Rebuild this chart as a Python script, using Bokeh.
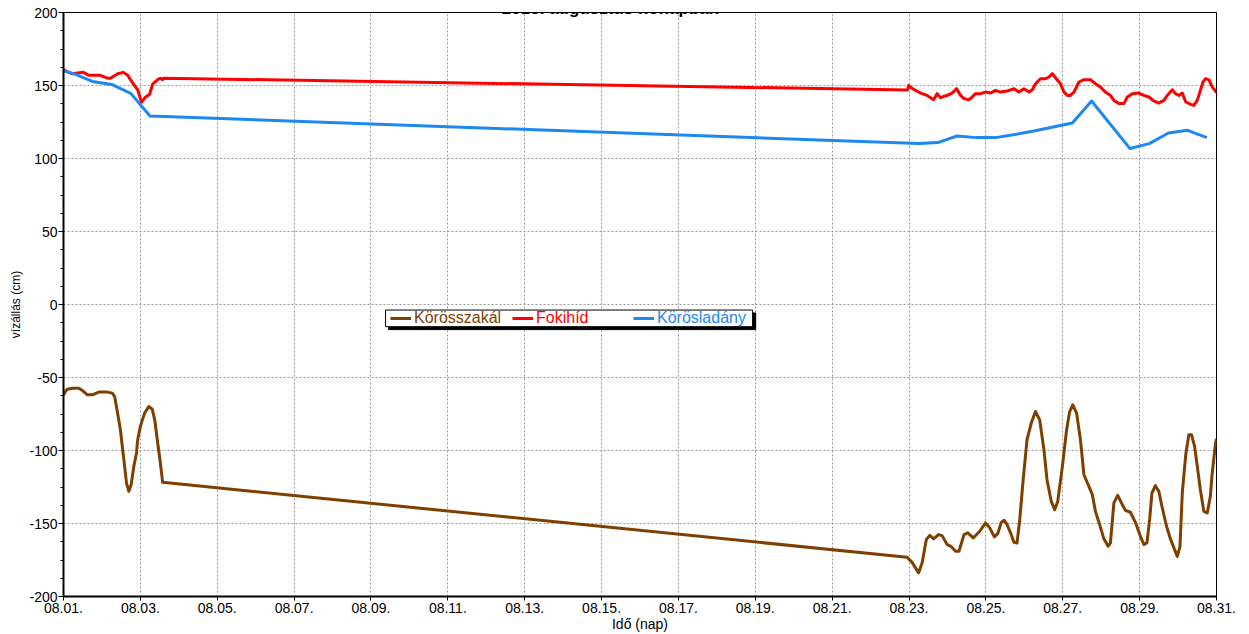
import pandas as pd
from bokeh.plotting import figure
from bokeh.models import (FixedTicker, DatetimeTickFormatter, Range1d, Legend,
                          LegendItem, BoxAnnotation, Label, PrintfTickFormatter)
from bokeh.embed import file_html
from bokeh.resources import INLINE

MONTH_START = "2018-08-01"
title_text = "2018. augusztus hónapban"
x_label = "Idő (nap)"
y_label = "vízállás (cm)"
names = ["Körösszakál", "Fokihíd", "Körösladány"]
colors = ["#7F3F00", "#FF0000", "#1E88F0"]

# day of month (fractional) and water level (cm)
fokihid_day = [1.00, 1.05, 1.23, 1.52, 1.65, 1.96, 2.14, 2.22, 2.41, 2.56, 2.67, 2.74, 2.93, 3.03, 3.13,
               3.24, 3.32, 3.45, 3.52, 3.58, 3.60, 22.96, 22.99, 23.08, 23.17, 23.25, 23.34, 23.47,
               23.64, 23.73, 23.82, 23.90, 23.99, 24.12, 24.24, 24.34, 24.43, 24.56, 24.64, 24.73,
               24.86, 24.99, 25.12, 25.25, 25.38, 25.55, 25.73, 25.86, 25.99, 26.12, 26.21, 26.29,
               26.42, 26.55, 26.64, 26.73, 26.81, 26.94, 27.03, 27.12, 27.20, 27.29, 27.42, 27.55,
               27.72, 27.85, 27.98, 28.11, 28.24, 28.33, 28.46, 28.59, 28.68, 28.81, 28.98, 29.11,
               29.24, 29.37, 29.50, 29.63, 29.72, 29.85, 29.93, 30.02, 30.11, 30.20, 30.33, 30.41,
               30.50, 30.58, 30.65, 30.71, 30.80, 30.89, 30.96, 31.00]
fokihid_cm = [161, 160, 158, 159, 157, 157, 155, 155, 158, 159, 157, 154, 147, 138.5, 142,
              144, 151, 154, 155, 154, 155, 147, 150, 148, 146.7, 145.5, 144.4, 143.2,
              140.3, 144.4, 141.6, 142.6, 143.2, 144.8, 147.8, 143.2, 141, 140.3, 142.1, 144.4,
              144.4, 145.5, 144.8, 146.7, 145.5, 146.2, 147.8, 145.5, 147.8, 145.5, 147.1, 151.2,
              154.6, 154.6, 155.8, 158.1, 155.3, 151.2, 145.5, 143.2, 143.2, 145.5, 152.4, 154,
              154, 151.2, 148.9, 145.5, 143.2, 139.8, 137.6, 137.6, 142.1, 144.4, 144.8, 143.2,
              142.1, 139.4, 138, 139.8, 143.2, 147.1, 144.4, 143.2, 144.8, 138.7, 137.1, 136.4,
              139.8, 146.7, 152.4, 154.6, 154, 148.9, 146.7, 145]

koroslad_day = [1.00, 1.25, 1.75, 2.25, 2.75, 3.25, 23.25, 23.75, 24.25, 24.75, 25.25, 25.75,
                26.25, 26.75, 27.25, 27.75, 28.75, 29.25, 29.75, 30.25, 30.75]
koroslad_cm = [160, 158.3, 152.8, 150.7, 144.6, 129.1, 110.2, 110.9, 115.4, 114.3, 114.3, 116.4,
               118.8, 121.6, 124.3, 139.4, 106.8, 110.2, 117.5, 119.3, 114.3]

korossz_day = [1.00, 1.05, 1.10, 1.23, 1.40, 1.49, 1.62, 1.75, 1.92, 2.14, 2.27, 2.33, 2.40, 2.48,
               2.57, 2.64, 2.70, 2.76, 2.83, 2.90, 2.93, 3.00, 3.11, 3.22, 3.31, 3.38, 3.44, 3.51,
               3.58, 22.95, 23.08, 23.25, 23.34, 23.45, 23.54, 23.64, 23.77, 23.86, 23.99, 24.09,
               24.21, 24.30, 24.43, 24.53, 24.67, 24.84, 24.99, 25.10, 25.22, 25.31, 25.40, 25.47,
               25.54, 25.64, 25.73, 25.81, 25.88, 25.97, 26.07, 26.18, 26.29, 26.40, 26.51, 26.59,
               26.70, 26.79, 26.87, 26.99, 27.10, 27.18, 27.26, 27.36, 27.46, 27.55, 27.68, 27.77,
               27.85, 27.96, 28.07, 28.18, 28.24, 28.33, 28.43, 28.55, 28.63, 28.76, 28.89, 29.02,
               29.11, 29.19, 29.26, 29.32, 29.41, 29.50, 29.59, 29.70, 29.80, 29.91, 29.98, 30.05,
               30.11, 30.20, 30.28, 30.35, 30.43, 30.50, 30.58, 30.67, 30.76, 30.84, 30.88, 30.97,
               31.00]
korossz_cm = [-62, -59.6, -58, -57.3, -57.3, -58.9, -61.9, -61.9, -60, -60, -60.7, -63, -73.3, -85.8,
              -106.3, -122.3, -128, -123.4, -110.9, -101.7, -92.6, -83.5, -74.4, -69.9, -71.7, -80.1,
              -92.6, -106.3, -121.8, -173.1, -176.6, -183.8, -177, -161, -158.1, -160.5, -157.6,
              -158.3, -164.4, -165.6, -169, -169, -157.6, -156.4, -159.9, -155.3, -149.6, -153,
              -159.2, -156.9, -149.2, -147.8, -150.1, -156.4, -162.9, -163.3, -147.4, -120, -92.6,
              -81.2, -73.3, -79, -99.5, -120, -134.8, -140.5, -134.8, -110.9, -85.8, -73.3, -68.7,
              -74.4, -92.6, -116.6, -124.6, -130.3, -141.7, -150.8, -160.5, -165.6, -163.3, -135.9,
              -130.7, -137.1, -141, -142.3, -149.2, -158.8, -164.4, -163.3, -147.4, -129.1, -124.1,
              -128, -139.4, -151.9, -160.5, -167.9, -172.5, -165.6, -129.1, -102.9, -89.2, -89.2,
              -97.2, -110.9, -126.8, -141.7, -142.8, -131.4, -117.7, -96.1, -92]

tick_days = list(range(1, 32, 2))
y_ticks = [-200, -150, -100, -50, 0, 50, 100, 150, 200]
y_minor = [-200 + 12.5 * i for i in range(33)]

# legend box (day of month, cm)
legend_box = (9.38, 18.93, -3.8, -15.2)

t0 = pd.Timestamp(MONTH_START)


def ms(d):
    return (t0 + pd.Timedelta(days=d - 1)).value / 1e6


FONT = "Liberation Sans"

p = figure(width=1249, height=634, output_backend="svg", toolbar_location=None,
           x_axis_type="datetime",
           x_range=Range1d(ms(1), ms(31)), y_range=Range1d(-200, 200),
           min_border_left=63, min_border_right=33, min_border_top=12, min_border_bottom=37)
p.background_fill_color = "white"
p.border_fill_color = "white"
p.outline_line_color = "black"
p.outline_line_width = 1

# grid
for g in (p.xgrid, p.ygrid):
    g.grid_line_color = "#999999"
    g.grid_line_dash = "2 2"
    g.grid_line_width = 1

# axes
p.xaxis.ticker = FixedTicker(ticks=[ms(d) for d in tick_days])
p.xaxis.formatter = DatetimeTickFormatter(days="%m.%d.", months="%m.%d.", hours="%m.%d.")
p.yaxis.ticker = FixedTicker(ticks=y_ticks, minor_ticks=y_minor)
p.yaxis.formatter = PrintfTickFormatter(format="%d")
for ax in (p.xaxis[0], p.yaxis[0]):
    ax.axis_line_color = "black"
    ax.axis_line_width = 2
    ax.major_tick_line_color = "black"
    ax.minor_tick_line_color = "black"
    ax.major_tick_in = 0
    ax.minor_tick_in = 0
    ax.major_label_text_font = FONT
    ax.major_label_text_font_size = "14px"
    ax.major_label_text_color = "black"
    ax.axis_label_text_font = FONT
    ax.axis_label_text_font_style = "normal"
    ax.axis_label_text_color = "black"
p.xaxis.major_tick_out = 4
p.xaxis.minor_tick_line_color = None
p.xaxis.major_label_standoff = 2
p.xaxis.axis_label = x_label
p.xaxis.axis_label_text_font_size = "14px"
p.xaxis.axis_label_standoff = 0
p.yaxis.major_tick_out = 5
p.yaxis.minor_tick_out = 3
p.yaxis.major_label_standoff = 1
p.yaxis.axis_label = y_label
p.yaxis.axis_label_text_font_size = "12px"
p.yaxis.axis_label_standoff = 3

# series
series = [(korossz_day, korossz_cm), (fokihid_day, fokihid_cm), (koroslad_day, koroslad_cm)]
renderers = []
for (days, vals), c in zip(series, colors):
    r = p.line([ms(d) for d in days], vals, line_color=c, line_width=3, line_join="round")
    renderers.append(r)

# legend box with shadow
x0, x1, ytop, ybot = legend_box
p.add_layout(BoxAnnotation(left=ms(x0 + 0.08), right=ms(x1 + 0.08), top=ytop - 2.0, bottom=ybot - 2.0,
                           fill_color="black", fill_alpha=1, line_color="black", line_alpha=1))
p.add_layout(BoxAnnotation(left=ms(x0), right=ms(x1), top=ytop, bottom=ybot,
                           fill_color="white", fill_alpha=1, line_color="black", line_width=1, line_alpha=1))

legend_x = [327, 449, 570]
for name, c, r, lx in zip(names, colors, renderers, legend_x):
    leg = Legend(items=[LegendItem(label=name, renderers=[r])], location=(lx, 269),
                 orientation="horizontal", glyph_width=21, glyph_height=14, label_height=14,
                 label_standoff=3, padding=0, margin=0, spacing=0,
                 border_line_color=None, background_fill_alpha=0,
                 label_text_font=FONT, label_text_font_size="16px", label_text_color=c)
    p.add_layout(leg)

# title (cut at the top edge, as in the original picture)
p.add_layout(Label(x=547, y=588, x_units="screen", y_units="screen", text=title_text,
                   text_align="center", text_baseline="alphabetic", text_font=FONT,
                   text_font_size="17px", text_font_style="bold", text_color="black"))

open("out.html", "w").write(file_html(p, INLINE))
